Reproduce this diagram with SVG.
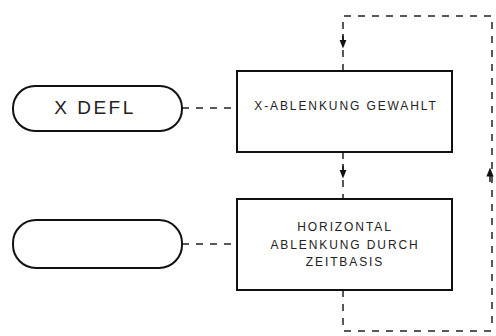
<svg xmlns="http://www.w3.org/2000/svg" width="496" height="336" viewBox="0 0 496 336">
<defs>
<marker id="arr" viewBox="0 0 10 10" refX="5" refY="5" markerWidth="6" markerHeight="6" orient="auto">
<path d="M0,1 L10,5 L0,9 Z" fill="#111"/>
</marker>
<style>
.box{fill:#fff;stroke:#111;stroke-width:2}
.t{font-family:"Liberation Sans",Arial,sans-serif;fill:#222;text-anchor:middle;dominant-baseline:central}
.s{font-size:12px;letter-spacing:1.9px}
.b{font-size:19px;letter-spacing:2.5px}
.d{fill:none;stroke:#222;stroke-width:1.5;stroke-dasharray:7 7}
</style>
</defs>
<rect width="496" height="336" fill="#fff"/>
<g id="connectors">
<path class="d" d="M343,71 V16 H492 V330"/>
<path class="d" d="M343,290 V331 H496"/>
<path class="d" d="M343,152 V199"/>
<path class="d" d="M182,108 H237"/>
<path class="d" d="M182,244 H237"/>
<path d="M343,34 V44" stroke="#111" stroke-width="1.5" marker-end="url(#arr)"/>
<path d="M343,164 V174" stroke="#111" stroke-width="1.5" marker-end="url(#arr)"/>
<path d="M490,182 V172" stroke="#111" stroke-width="1.5" marker-end="url(#arr)"/>
</g>
<g id="term1">
<rect class="box" x="13" y="86" width="169" height="45" rx="22"/>
<text class="t b" x="95" y="107">X DEFL</text>
</g>
<g id="box1">
<rect class="box" x="237" y="71" width="215" height="81"/>
<text class="t s" x="346" y="106">X-ABLENKUNG GEWAHLT</text>
</g>
<g id="term2">
<rect class="box" x="13" y="220" width="169" height="48" rx="23"/>
</g>
<g id="box2">
<rect class="box" x="237" y="199" width="215" height="91"/>
<text class="t s" x="345" y="227">HORIZONTAL</text>
<text class="t s" x="345" y="245">ABLENKUNG DURCH</text>
<text class="t s" x="345" y="262">ZEITBASIS</text>
</g>
</svg>
